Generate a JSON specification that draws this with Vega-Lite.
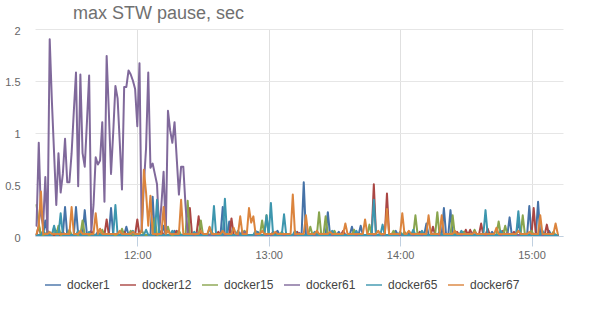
{
"$schema": "https://vega.github.io/schema/vega-lite/v6.json",
"width": 528, "height": 207,
"autosize": {"type": "none"},
"padding": {"left": 35, "top": 29, "right": 30, "bottom": 73},
"background": "white",
"config": {"view": {"stroke": null}, "font": "Liberation Sans"},
"title": {"text": "max STW pause, sec", "anchor": "start", "frame": "group", "dx": 38, "offset": 2, "fontSize": 18, "fontWeight": "normal", "color": "#707070", "font": "Liberation Sans"},
"data": {"format": {"parse": {"t": "utc:'%H:%M'"}}, "values": [
{"t":"11:14","docker1":0.01,"docker12":0.01,"docker15":0.3,"docker61":0.1,"docker65":0.01,"docker67":0.02},
{"t":"11:15","docker1":0.01,"docker12":0.1,"docker15":0.12,"docker61":0.9,"docker65":0.01,"docker67":0.1},
{"t":"11:16","docker1":0.01,"docker12":0.01,"docker15":0.01,"docker61":0.2,"docker65":0.01,"docker67":0.43},
{"t":"11:17","docker1":0.01,"docker12":0.01,"docker15":0.01,"docker61":0.1,"docker65":0.05,"docker67":0.02},
{"t":"11:18","docker1":0.15,"docker12":0.01,"docker15":0.01,"docker61":0.57,"docker65":0.01,"docker67":0.02},
{"t":"11:19","docker1":0.01,"docker12":0.01,"docker15":0.05,"docker61":0.02,"docker65":0.01,"docker67":0.02},
{"t":"11:20","docker1":0.01,"docker12":0.01,"docker15":0.01,"docker61":1.9,"docker65":0.01,"docker67":0.04},
{"t":"11:21","docker1":0.01,"docker12":0.01,"docker15":0.01,"docker61":1.3,"docker65":0.01,"docker67":0.02},
{"t":"11:22","docker1":0.01,"docker12":0.01,"docker15":0.08,"docker61":0.8,"docker65":0.1,"docker67":0.02},
{"t":"11:23","docker1":0.05,"docker12":0.01,"docker15":0.01,"docker61":0.3,"docker65":0.01,"docker67":0.02},
{"t":"11:24","docker1":0.01,"docker12":0.01,"docker15":0.1,"docker61":0.8,"docker65":0.01,"docker67":0.02},
{"t":"11:25","docker1":0.01,"docker12":0.01,"docker15":0.01,"docker61":0.42,"docker65":0.22,"docker67":0.02},
{"t":"11:26","docker1":0.01,"docker12":0.04,"docker15":0.01,"docker61":0.6,"docker65":0.01,"docker67":0.02},
{"t":"11:27","docker1":0.28,"docker12":0.01,"docker15":0.01,"docker61":0.94,"docker65":0.01,"docker67":0.02},
{"t":"11:28","docker1":0.01,"docker12":0.01,"docker15":0.01,"docker61":0.52,"docker65":0.01,"docker67":0.02},
{"t":"11:29","docker1":0.01,"docker12":0.01,"docker15":0.06,"docker61":0.52,"docker65":0.01,"docker67":0.02},
{"t":"11:30","docker1":0.01,"docker12":0.01,"docker15":0.01,"docker61":0.8,"docker65":0.01,"docker67":0.28},
{"t":"11:31","docker1":0.01,"docker12":0.01,"docker15":0.01,"docker61":1.2,"docker65":0.01,"docker67":0.02},
{"t":"11:32","docker1":0.28,"docker12":0.01,"docker15":0.01,"docker61":1.58,"docker65":0.01,"docker67":0.02},
{"t":"11:33","docker1":0.01,"docker12":0.01,"docker15":0.01,"docker61":0.48,"docker65":0.05,"docker67":0.02},
{"t":"11:34","docker1":0.01,"docker12":0.01,"docker15":0.01,"docker61":1.56,"docker65":0.01,"docker67":0.05},
{"t":"11:35","docker1":0.01,"docker12":0.01,"docker15":0.15,"docker61":0.8,"docker65":0.01,"docker67":0.02},
{"t":"11:36","docker1":0.25,"docker12":0.01,"docker15":0.01,"docker61":0.67,"docker65":0.01,"docker67":0.02},
{"t":"11:37","docker1":0.01,"docker12":0.01,"docker15":0.01,"docker61":1.1,"docker65":0.01,"docker67":0.02},
{"t":"11:38","docker1":0.01,"docker12":0.01,"docker15":0.01,"docker61":1.55,"docker65":0.04,"docker67":0.02},
{"t":"11:39","docker1":0.01,"docker12":0.05,"docker15":0.01,"docker61":0.05,"docker65":0.01,"docker67":0.02},
{"t":"11:40","docker1":0.01,"docker12":0.01,"docker15":0.01,"docker61":0.3,"docker65":0.01,"docker67":0.02},
{"t":"11:41","docker1":0.01,"docker12":0.01,"docker15":0.01,"docker61":0.76,"docker65":0.01,"docker67":0.22},
{"t":"11:42","docker1":0.04,"docker12":0.01,"docker15":0.01,"docker61":0.69,"docker65":0.01,"docker67":0.02},
{"t":"11:43","docker1":0.01,"docker12":0.01,"docker15":0.01,"docker61":0.73,"docker65":0.01,"docker67":0.07},
{"t":"11:44","docker1":0.01,"docker12":0.01,"docker15":0.06,"docker61":1.1,"docker65":0.01,"docker67":0.02},
{"t":"11:45","docker1":0.01,"docker12":0.01,"docker15":0.01,"docker61":0.33,"docker65":0.01,"docker67":0.02},
{"t":"11:46","docker1":0.01,"docker12":0.16,"docker15":0.01,"docker61":1.74,"docker65":0.01,"docker67":0.02},
{"t":"11:47","docker1":0.01,"docker12":0.01,"docker15":0.01,"docker61":1.2,"docker65":0.01,"docker67":0.02},
{"t":"11:48","docker1":0.27,"docker12":0.01,"docker15":0.01,"docker61":0.6,"docker65":0.01,"docker67":0.02},
{"t":"11:49","docker1":0.01,"docker12":0.01,"docker15":0.01,"docker61":1.0,"docker65":0.01,"docker67":0.02},
{"t":"11:50","docker1":0.01,"docker12":0.01,"docker15":0.01,"docker61":1.45,"docker65":0.3,"docker67":0.02},
{"t":"11:51","docker1":0.01,"docker12":0.01,"docker15":0.01,"docker61":1.33,"docker65":0.01,"docker67":0.02},
{"t":"11:52","docker1":0.01,"docker12":0.01,"docker15":0.01,"docker61":0.9,"docker65":0.01,"docker67":0.05},
{"t":"11:53","docker1":0.01,"docker12":0.01,"docker15":0.07,"docker61":0.45,"docker65":0.01,"docker67":0.02},
{"t":"11:54","docker1":0.01,"docker12":0.04,"docker15":0.01,"docker61":1.44,"docker65":0.01,"docker67":0.02},
{"t":"11:55","docker1":0.09,"docker12":0.01,"docker15":0.01,"docker61":1.44,"docker65":0.01,"docker67":0.02},
{"t":"11:56","docker1":0.01,"docker12":0.01,"docker15":0.01,"docker61":1.6,"docker65":0.01,"docker67":0.02},
{"t":"11:57","docker1":0.01,"docker12":0.01,"docker15":0.05,"docker61":1.56,"docker65":0.01,"docker67":0.02},
{"t":"11:58","docker1":0.01,"docker12":0.01,"docker15":0.01,"docker61":1.5,"docker65":0.05,"docker67":0.04},
{"t":"11:59","docker1":0.01,"docker12":0.01,"docker15":0.01,"docker61":1.42,"docker65":0.01,"docker67":0.02},
{"t":"12:00","docker1":0.01,"docker12":0.16,"docker15":0.01,"docker61":1.06,"docker65":0.01,"docker67":0.02},
{"t":"12:01","docker1":0.01,"docker12":0.01,"docker15":0.01,"docker61":1.67,"docker65":0.01,"docker67":0.02},
{"t":"12:02","docker1":0.01,"docker12":0.01,"docker15":0.06,"docker61":0.04,"docker65":0.01,"docker67":0.05},
{"t":"12:03","docker1":0.01,"docker12":0.01,"docker15":0.01,"docker61":0.5,"docker65":0.01,"docker67":0.64},
{"t":"12:04","docker1":0.01,"docker12":0.01,"docker15":0.01,"docker61":0.85,"docker65":0.06,"docker67":0.42},
{"t":"12:05","docker1":0.01,"docker12":0.01,"docker15":0.01,"docker61":1.58,"docker65":0.01,"docker67":0.1},
{"t":"12:06","docker1":0.01,"docker12":0.01,"docker15":0.01,"docker61":0.66,"docker65":0.01,"docker67":0.39},
{"t":"12:07","docker1":0.38,"docker12":0.01,"docker15":0.01,"docker61":0.7,"docker65":0.01,"docker67":0.02},
{"t":"12:08","docker1":0.01,"docker12":0.01,"docker15":0.17,"docker61":0.6,"docker65":0.01,"docker67":0.02},
{"t":"12:09","docker1":0.01,"docker12":0.01,"docker15":0.01,"docker61":0.5,"docker65":0.35,"docker67":0.02},
{"t":"12:10","docker1":0.01,"docker12":0.01,"docker15":0.01,"docker61":0.04,"docker65":0.01,"docker67":0.02},
{"t":"12:11","docker1":0.01,"docker12":0.05,"docker15":0.01,"docker61":0.3,"docker65":0.01,"docker67":0.02},
{"t":"12:12","docker1":0.1,"docker12":0.01,"docker15":0.01,"docker61":0.62,"docker65":0.01,"docker67":0.28},
{"t":"12:13","docker1":0.01,"docker12":0.01,"docker15":0.01,"docker61":0.02,"docker65":0.01,"docker67":0.02},
{"t":"12:14","docker1":0.01,"docker12":0.01,"docker15":0.09,"docker61":1.21,"docker65":0.01,"docker67":0.05},
{"t":"12:15","docker1":0.01,"docker12":0.01,"docker15":0.01,"docker61":1.02,"docker65":0.01,"docker67":0.02},
{"t":"12:16","docker1":0.01,"docker12":0.01,"docker15":0.01,"docker61":0.9,"docker65":0.05,"docker67":0.02},
{"t":"12:17","docker1":0.05,"docker12":0.01,"docker15":0.01,"docker61":1.1,"docker65":0.01,"docker67":0.02},
{"t":"12:18","docker1":0.01,"docker12":0.05,"docker15":0.01,"docker61":0.75,"docker65":0.01,"docker67":0.02},
{"t":"12:19","docker1":0.01,"docker12":0.01,"docker15":0.05,"docker61":0.4,"docker65":0.01,"docker67":0.02},
{"t":"12:20","docker1":0.01,"docker12":0.01,"docker15":0.01,"docker61":0.67,"docker65":0.01,"docker67":0.35},
{"t":"12:21","docker1":0.01,"docker12":0.01,"docker15":0.01,"docker61":0.67,"docker65":0.01,"docker67":0.02},
{"t":"12:22","docker1":0.01,"docker12":0.01,"docker15":0.01,"docker61":0.3,"docker65":0.01,"docker67":0.02},
{"t":"12:23","docker1":0.01,"docker12":0.01,"docker15":0.34,"docker61":0.02,"docker65":0.01,"docker67":0.02},
{"t":"12:24","docker1":0.01,"docker12":0.27,"docker15":0.01,"docker61":0.01,"docker65":0.01,"docker67":0.02},
{"t":"12:25","docker1":0.01,"docker12":0.01,"docker15":0.01,"docker61":0.01,"docker65":0.01,"docker67":0.02},
{"t":"12:26","docker1":0.01,"docker12":0.01,"docker15":0.01,"docker61":0.01,"docker65":0.04,"docker67":0.02},
{"t":"12:27","docker1":0.01,"docker12":0.01,"docker15":0.01,"docker61":0.03,"docker65":0.01,"docker67":0.02},
{"t":"12:28","docker1":0.01,"docker12":0.19,"docker15":0.01,"docker61":0.01,"docker65":0.01,"docker67":0.02},
{"t":"12:29","docker1":0.01,"docker12":0.01,"docker15":0.15,"docker61":0.01,"docker65":0.01,"docker67":0.05},
{"t":"12:30","docker1":0.01,"docker12":0.01,"docker15":0.01,"docker61":0.01,"docker65":0.01,"docker67":0.02},
{"t":"12:31","docker1":0.01,"docker12":0.01,"docker15":0.01,"docker61":0.01,"docker65":0.01,"docker67":0.02},
{"t":"12:32","docker1":0.01,"docker12":0.01,"docker15":0.01,"docker61":0.01,"docker65":0.01,"docker67":0.02},
{"t":"12:33","docker1":0.01,"docker12":0.01,"docker15":0.01,"docker61":0.01,"docker65":0.08,"docker67":0.09},
{"t":"12:34","docker1":0.01,"docker12":0.01,"docker15":0.04,"docker61":0.01,"docker65":0.01,"docker67":0.02},
{"t":"12:35","docker1":0.01,"docker12":0.01,"docker15":0.01,"docker61":0.01,"docker65":0.29,"docker67":0.02},
{"t":"12:36","docker1":0.01,"docker12":0.01,"docker15":0.01,"docker61":0.01,"docker65":0.01,"docker67":0.02},
{"t":"12:37","docker1":0.01,"docker12":0.04,"docker15":0.01,"docker61":0.01,"docker65":0.01,"docker67":0.02},
{"t":"12:38","docker1":0.01,"docker12":0.01,"docker15":0.01,"docker61":0.01,"docker65":0.01,"docker67":0.02},
{"t":"12:39","docker1":0.28,"docker12":0.01,"docker15":0.01,"docker61":0.01,"docker65":0.01,"docker67":0.05},
{"t":"12:40","docker1":0.01,"docker12":0.01,"docker15":0.01,"docker61":0.01,"docker65":0.36,"docker67":0.02},
{"t":"12:41","docker1":0.01,"docker12":0.01,"docker15":0.01,"docker61":0.01,"docker65":0.01,"docker67":0.02},
{"t":"12:42","docker1":0.14,"docker12":0.01,"docker15":0.01,"docker61":0.01,"docker65":0.01,"docker67":0.02},
{"t":"12:43","docker1":0.01,"docker12":0.17,"docker15":0.01,"docker61":0.01,"docker65":0.01,"docker67":0.02},
{"t":"12:44","docker1":0.01,"docker12":0.01,"docker15":0.01,"docker61":0.01,"docker65":0.01,"docker67":0.08},
{"t":"12:45","docker1":0.01,"docker12":0.01,"docker15":0.01,"docker61":0.01,"docker65":0.01,"docker67":0.02},
{"t":"12:46","docker1":0.01,"docker12":0.01,"docker15":0.01,"docker61":0.01,"docker65":0.05,"docker67":0.02},
{"t":"12:47","docker1":0.01,"docker12":0.01,"docker15":0.01,"docker61":0.01,"docker65":0.01,"docker67":0.19},
{"t":"12:48","docker1":0.05,"docker12":0.01,"docker15":0.01,"docker61":0.01,"docker65":0.01,"docker67":0.02},
{"t":"12:49","docker1":0.01,"docker12":0.01,"docker15":0.05,"docker61":0.04,"docker65":0.01,"docker67":0.02},
{"t":"12:50","docker1":0.01,"docker12":0.01,"docker15":0.01,"docker61":0.01,"docker65":0.01,"docker67":0.02},
{"t":"12:51","docker1":0.01,"docker12":0.01,"docker15":0.01,"docker61":0.01,"docker65":0.01,"docker67":0.27},
{"t":"12:52","docker1":0.01,"docker12":0.01,"docker15":0.01,"docker61":0.01,"docker65":0.01,"docker67":0.13},
{"t":"12:53","docker1":0.01,"docker12":0.01,"docker15":0.01,"docker61":0.01,"docker65":0.01,"docker67":0.19},
{"t":"12:54","docker1":0.01,"docker12":0.01,"docker15":0.01,"docker61":0.01,"docker65":0.05,"docker67":0.02},
{"t":"12:55","docker1":0.04,"docker12":0.01,"docker15":0.01,"docker61":0.01,"docker65":0.01,"docker67":0.02},
{"t":"12:56","docker1":0.01,"docker12":0.01,"docker15":0.01,"docker61":0.01,"docker65":0.01,"docker67":0.02},
{"t":"12:57","docker1":0.01,"docker12":0.01,"docker15":0.15,"docker61":0.01,"docker65":0.01,"docker67":0.05},
{"t":"12:58","docker1":0.01,"docker12":0.01,"docker15":0.01,"docker61":0.01,"docker65":0.01,"docker67":0.02},
{"t":"12:59","docker1":0.01,"docker12":0.01,"docker15":0.2,"docker61":0.01,"docker65":0.2,"docker67":0.02},
{"t":"13:00","docker1":0.01,"docker12":0.01,"docker15":0.01,"docker61":0.01,"docker65":0.01,"docker67":0.02},
{"t":"13:01","docker1":0.01,"docker12":0.01,"docker15":0.01,"docker61":0.01,"docker65":0.32,"docker67":0.02},
{"t":"13:02","docker1":0.01,"docker12":0.04,"docker15":0.01,"docker61":0.01,"docker65":0.01,"docker67":0.02},
{"t":"13:03","docker1":0.01,"docker12":0.01,"docker15":0.01,"docker61":0.01,"docker65":0.01,"docker67":0.04},
{"t":"13:04","docker1":0.05,"docker12":0.01,"docker15":0.01,"docker61":0.01,"docker65":0.01,"docker67":0.02},
{"t":"13:05","docker1":0.01,"docker12":0.01,"docker15":0.01,"docker61":0.01,"docker65":0.01,"docker67":0.02},
{"t":"13:06","docker1":0.01,"docker12":0.01,"docker15":0.04,"docker61":0.01,"docker65":0.01,"docker67":0.02},
{"t":"13:07","docker1":0.01,"docker12":0.01,"docker15":0.01,"docker61":0.01,"docker65":0.21,"docker67":0.02},
{"t":"13:08","docker1":0.01,"docker12":0.01,"docker15":0.01,"docker61":0.01,"docker65":0.01,"docker67":0.02},
{"t":"13:09","docker1":0.01,"docker12":0.01,"docker15":0.01,"docker61":0.01,"docker65":0.01,"docker67":0.02},
{"t":"13:10","docker1":0.01,"docker12":0.01,"docker15":0.01,"docker61":0.01,"docker65":0.01,"docker67":0.02},
{"t":"13:11","docker1":0.01,"docker12":0.01,"docker15":0.01,"docker61":0.01,"docker65":0.01,"docker67":0.4},
{"t":"13:12","docker1":0.01,"docker12":0.01,"docker15":0.01,"docker61":0.01,"docker65":0.05,"docker67":0.02},
{"t":"13:13","docker1":0.01,"docker12":0.04,"docker15":0.01,"docker61":0.01,"docker65":0.01,"docker67":0.02},
{"t":"13:14","docker1":0.01,"docker12":0.01,"docker15":0.01,"docker61":0.03,"docker65":0.01,"docker67":0.02},
{"t":"13:15","docker1":0.01,"docker12":0.01,"docker15":0.01,"docker61":0.01,"docker65":0.01,"docker67":0.02},
{"t":"13:16","docker1":0.52,"docker12":0.01,"docker15":0.01,"docker61":0.01,"docker65":0.01,"docker67":0.02},
{"t":"13:17","docker1":0.01,"docker12":0.01,"docker15":0.01,"docker61":0.01,"docker65":0.01,"docker67":0.2},
{"t":"13:18","docker1":0.01,"docker12":0.01,"docker15":0.01,"docker61":0.01,"docker65":0.01,"docker67":0.02},
{"t":"13:19","docker1":0.01,"docker12":0.01,"docker15":0.09,"docker61":0.01,"docker65":0.01,"docker67":0.02},
{"t":"13:20","docker1":0.01,"docker12":0.01,"docker15":0.01,"docker61":0.01,"docker65":0.01,"docker67":0.02},
{"t":"13:21","docker1":0.01,"docker12":0.01,"docker15":0.01,"docker61":0.01,"docker65":0.04,"docker67":0.02},
{"t":"13:22","docker1":0.01,"docker12":0.01,"docker15":0.01,"docker61":0.01,"docker65":0.01,"docker67":0.05},
{"t":"13:23","docker1":0.01,"docker12":0.01,"docker15":0.23,"docker61":0.01,"docker65":0.01,"docker67":0.02},
{"t":"13:24","docker1":0.01,"docker12":0.01,"docker15":0.01,"docker61":0.01,"docker65":0.01,"docker67":0.02},
{"t":"13:25","docker1":0.01,"docker12":0.01,"docker15":0.01,"docker61":0.01,"docker65":0.01,"docker67":0.02},
{"t":"13:26","docker1":0.01,"docker12":0.01,"docker15":0.19,"docker61":0.01,"docker65":0.01,"docker67":0.02},
{"t":"13:27","docker1":0.23,"docker12":0.01,"docker15":0.01,"docker61":0.01,"docker65":0.01,"docker67":0.02},
{"t":"13:28","docker1":0.01,"docker12":0.01,"docker15":0.01,"docker61":0.01,"docker65":0.01,"docker67":0.04},
{"t":"13:29","docker1":0.01,"docker12":0.01,"docker15":0.01,"docker61":0.01,"docker65":0.05,"docker67":0.02},
{"t":"13:30","docker1":0.01,"docker12":0.01,"docker15":0.05,"docker61":0.01,"docker65":0.01,"docker67":0.02},
{"t":"13:31","docker1":0.01,"docker12":0.01,"docker15":0.01,"docker61":0.01,"docker65":0.01,"docker67":0.02},
{"t":"13:32","docker1":0.04,"docker12":0.01,"docker15":0.01,"docker61":0.01,"docker65":0.01,"docker67":0.02},
{"t":"13:33","docker1":0.01,"docker12":0.01,"docker15":0.01,"docker61":0.01,"docker65":0.01,"docker67":0.02},
{"t":"13:34","docker1":0.01,"docker12":0.05,"docker15":0.01,"docker61":0.01,"docker65":0.01,"docker67":0.02},
{"t":"13:35","docker1":0.01,"docker12":0.01,"docker15":0.01,"docker61":0.01,"docker65":0.01,"docker67":0.12},
{"t":"13:36","docker1":0.01,"docker12":0.01,"docker15":0.01,"docker61":0.01,"docker65":0.01,"docker67":0.02},
{"t":"13:37","docker1":0.01,"docker12":0.01,"docker15":0.01,"docker61":0.01,"docker65":0.01,"docker67":0.02},
{"t":"13:38","docker1":0.09,"docker12":0.01,"docker15":0.01,"docker61":0.01,"docker65":0.01,"docker67":0.02},
{"t":"13:39","docker1":0.01,"docker12":0.01,"docker15":0.06,"docker61":0.01,"docker65":0.01,"docker67":0.02},
{"t":"13:40","docker1":0.01,"docker12":0.01,"docker15":0.01,"docker61":0.01,"docker65":0.05,"docker67":0.02},
{"t":"13:41","docker1":0.01,"docker12":0.01,"docker15":0.01,"docker61":0.01,"docker65":0.01,"docker67":0.02},
{"t":"13:42","docker1":0.1,"docker12":0.01,"docker15":0.01,"docker61":0.01,"docker65":0.01,"docker67":0.02},
{"t":"13:43","docker1":0.01,"docker12":0.01,"docker15":0.01,"docker61":0.01,"docker65":0.01,"docker67":0.02},
{"t":"13:44","docker1":0.01,"docker12":0.01,"docker15":0.01,"docker61":0.01,"docker65":0.01,"docker67":0.16},
{"t":"13:45","docker1":0.01,"docker12":0.01,"docker15":0.01,"docker61":0.01,"docker65":0.01,"docker67":0.02},
{"t":"13:46","docker1":0.01,"docker12":0.01,"docker15":0.11,"docker61":0.01,"docker65":0.01,"docker67":0.02},
{"t":"13:47","docker1":0.01,"docker12":0.01,"docker15":0.01,"docker61":0.01,"docker65":0.01,"docker67":0.02},
{"t":"13:48","docker1":0.01,"docker12":0.5,"docker15":0.01,"docker61":0.01,"docker65":0.35,"docker67":0.02},
{"t":"13:49","docker1":0.01,"docker12":0.01,"docker15":0.01,"docker61":0.01,"docker65":0.01,"docker67":0.02},
{"t":"13:50","docker1":0.01,"docker12":0.01,"docker15":0.01,"docker61":0.01,"docker65":0.01,"docker67":0.05},
{"t":"13:51","docker1":0.01,"docker12":0.01,"docker15":0.01,"docker61":0.03,"docker65":0.01,"docker67":0.02},
{"t":"13:52","docker1":0.01,"docker12":0.01,"docker15":0.01,"docker61":0.01,"docker65":0.11,"docker67":0.02},
{"t":"13:53","docker1":0.01,"docker12":0.01,"docker15":0.01,"docker61":0.01,"docker65":0.01,"docker67":0.02},
{"t":"13:54","docker1":0.01,"docker12":0.41,"docker15":0.01,"docker61":0.01,"docker65":0.01,"docker67":0.26},
{"t":"13:55","docker1":0.01,"docker12":0.01,"docker15":0.01,"docker61":0.01,"docker65":0.01,"docker67":0.02},
{"t":"13:56","docker1":0.01,"docker12":0.01,"docker15":0.01,"docker61":0.01,"docker65":0.01,"docker67":0.02},
{"t":"13:57","docker1":0.01,"docker12":0.01,"docker15":0.05,"docker61":0.01,"docker65":0.01,"docker67":0.02},
{"t":"13:58","docker1":0.05,"docker12":0.01,"docker15":0.01,"docker61":0.01,"docker65":0.01,"docker67":0.02},
{"t":"13:59","docker1":0.01,"docker12":0.01,"docker15":0.01,"docker61":0.01,"docker65":0.01,"docker67":0.02},
{"t":"14:00","docker1":0.01,"docker12":0.01,"docker15":0.01,"docker61":0.01,"docker65":0.04,"docker67":0.02},
{"t":"14:01","docker1":0.01,"docker12":0.01,"docker15":0.01,"docker61":0.01,"docker65":0.01,"docker67":0.22},
{"t":"14:02","docker1":0.01,"docker12":0.01,"docker15":0.04,"docker61":0.01,"docker65":0.01,"docker67":0.02},
{"t":"14:03","docker1":0.01,"docker12":0.01,"docker15":0.01,"docker61":0.01,"docker65":0.01,"docker67":0.02},
{"t":"14:04","docker1":0.04,"docker12":0.01,"docker15":0.01,"docker61":0.01,"docker65":0.01,"docker67":0.05},
{"t":"14:05","docker1":0.01,"docker12":0.01,"docker15":0.01,"docker61":0.01,"docker65":0.01,"docker67":0.02},
{"t":"14:06","docker1":0.01,"docker12":0.01,"docker15":0.01,"docker61":0.01,"docker65":0.06,"docker67":0.02},
{"t":"14:07","docker1":0.01,"docker12":0.01,"docker15":0.2,"docker61":0.01,"docker65":0.01,"docker67":0.02},
{"t":"14:08","docker1":0.01,"docker12":0.01,"docker15":0.01,"docker61":0.01,"docker65":0.01,"docker67":0.02},
{"t":"14:09","docker1":0.01,"docker12":0.04,"docker15":0.01,"docker61":0.01,"docker65":0.01,"docker67":0.02},
{"t":"14:10","docker1":0.01,"docker12":0.01,"docker15":0.01,"docker61":0.01,"docker65":0.05,"docker67":0.02},
{"t":"14:11","docker1":0.01,"docker12":0.01,"docker15":0.01,"docker61":0.01,"docker65":0.01,"docker67":0.02},
{"t":"14:12","docker1":0.12,"docker12":0.01,"docker15":0.01,"docker61":0.01,"docker65":0.01,"docker67":0.02},
{"t":"14:13","docker1":0.01,"docker12":0.01,"docker15":0.01,"docker61":0.01,"docker65":0.01,"docker67":0.2},
{"t":"14:14","docker1":0.01,"docker12":0.01,"docker15":0.01,"docker61":0.01,"docker65":0.01,"docker67":0.02},
{"t":"14:15","docker1":0.01,"docker12":0.09,"docker15":0.01,"docker61":0.01,"docker65":0.01,"docker67":0.02},
{"t":"14:16","docker1":0.01,"docker12":0.01,"docker15":0.01,"docker61":0.01,"docker65":0.01,"docker67":0.02},
{"t":"14:17","docker1":0.01,"docker12":0.01,"docker15":0.23,"docker61":0.01,"docker65":0.01,"docker67":0.02},
{"t":"14:18","docker1":0.01,"docker12":0.01,"docker15":0.01,"docker61":0.01,"docker65":0.04,"docker67":0.02},
{"t":"14:19","docker1":0.01,"docker12":0.01,"docker15":0.01,"docker61":0.01,"docker65":0.01,"docker67":0.2},
{"t":"14:20","docker1":0.27,"docker12":0.01,"docker15":0.01,"docker61":0.01,"docker65":0.01,"docker67":0.02},
{"t":"14:21","docker1":0.01,"docker12":0.01,"docker15":0.01,"docker61":0.01,"docker65":0.01,"docker67":0.02},
{"t":"14:22","docker1":0.01,"docker12":0.01,"docker15":0.01,"docker61":0.01,"docker65":0.01,"docker67":0.02},
{"t":"14:23","docker1":0.25,"docker12":0.01,"docker15":0.01,"docker61":0.01,"docker65":0.01,"docker67":0.02},
{"t":"14:24","docker1":0.01,"docker12":0.01,"docker15":0.2,"docker61":0.01,"docker65":0.01,"docker67":0.02},
{"t":"14:25","docker1":0.01,"docker12":0.01,"docker15":0.01,"docker61":0.01,"docker65":0.01,"docker67":0.05},
{"t":"14:26","docker1":0.01,"docker12":0.04,"docker15":0.01,"docker61":0.01,"docker65":0.01,"docker67":0.02},
{"t":"14:27","docker1":0.01,"docker12":0.01,"docker15":0.01,"docker61":0.01,"docker65":0.01,"docker67":0.02},
{"t":"14:28","docker1":0.01,"docker12":0.01,"docker15":0.01,"docker61":0.01,"docker65":0.05,"docker67":0.02},
{"t":"14:29","docker1":0.01,"docker12":0.01,"docker15":0.04,"docker61":0.01,"docker65":0.01,"docker67":0.02},
{"t":"14:30","docker1":0.01,"docker12":0.06,"docker15":0.01,"docker61":0.01,"docker65":0.01,"docker67":0.02},
{"t":"14:31","docker1":0.01,"docker12":0.01,"docker15":0.01,"docker61":0.01,"docker65":0.01,"docker67":0.02},
{"t":"14:32","docker1":0.01,"docker12":0.06,"docker15":0.01,"docker61":0.01,"docker65":0.01,"docker67":0.02},
{"t":"14:33","docker1":0.01,"docker12":0.01,"docker15":0.01,"docker61":0.03,"docker65":0.01,"docker67":0.02},
{"t":"14:34","docker1":0.05,"docker12":0.01,"docker15":0.06,"docker61":0.01,"docker65":0.01,"docker67":0.04},
{"t":"14:35","docker1":0.01,"docker12":0.01,"docker15":0.01,"docker61":0.01,"docker65":0.01,"docker67":0.02},
{"t":"14:36","docker1":0.01,"docker12":0.01,"docker15":0.01,"docker61":0.01,"docker65":0.01,"docker67":0.02},
{"t":"14:37","docker1":0.01,"docker12":0.12,"docker15":0.01,"docker61":0.01,"docker65":0.01,"docker67":0.02},
{"t":"14:38","docker1":0.01,"docker12":0.01,"docker15":0.01,"docker61":0.01,"docker65":0.01,"docker67":0.02},
{"t":"14:39","docker1":0.01,"docker12":0.01,"docker15":0.01,"docker61":0.01,"docker65":0.25,"docker67":0.02},
{"t":"14:40","docker1":0.01,"docker12":0.07,"docker15":0.01,"docker61":0.01,"docker65":0.01,"docker67":0.02},
{"t":"14:41","docker1":0.01,"docker12":0.01,"docker15":0.01,"docker61":0.01,"docker65":0.01,"docker67":0.02},
{"t":"14:42","docker1":0.04,"docker12":0.01,"docker15":0.01,"docker61":0.01,"docker65":0.01,"docker67":0.02},
{"t":"14:43","docker1":0.01,"docker12":0.01,"docker15":0.01,"docker61":0.01,"docker65":0.01,"docker67":0.02},
{"t":"14:44","docker1":0.01,"docker12":0.01,"docker15":0.01,"docker61":0.01,"docker65":0.01,"docker67":0.08},
{"t":"14:45","docker1":0.01,"docker12":0.01,"docker15":0.14,"docker61":0.01,"docker65":0.01,"docker67":0.02},
{"t":"14:46","docker1":0.01,"docker12":0.01,"docker15":0.01,"docker61":0.01,"docker65":0.05,"docker67":0.02},
{"t":"14:47","docker1":0.01,"docker12":0.05,"docker15":0.01,"docker61":0.01,"docker65":0.01,"docker67":0.02},
{"t":"14:48","docker1":0.01,"docker12":0.01,"docker15":0.1,"docker61":0.01,"docker65":0.01,"docker67":0.02},
{"t":"14:49","docker1":0.01,"docker12":0.01,"docker15":0.01,"docker61":0.03,"docker65":0.01,"docker67":0.02},
{"t":"14:50","docker1":0.18,"docker12":0.01,"docker15":0.01,"docker61":0.01,"docker65":0.01,"docker67":0.02},
{"t":"14:51","docker1":0.01,"docker12":0.01,"docker15":0.01,"docker61":0.01,"docker65":0.01,"docker67":0.02},
{"t":"14:52","docker1":0.01,"docker12":0.04,"docker15":0.01,"docker61":0.01,"docker65":0.01,"docker67":0.02},
{"t":"14:53","docker1":0.01,"docker12":0.01,"docker15":0.01,"docker61":0.01,"docker65":0.01,"docker67":0.02},
{"t":"14:54","docker1":0.15,"docker12":0.01,"docker15":0.01,"docker61":0.01,"docker65":0.24,"docker67":0.05},
{"t":"14:55","docker1":0.01,"docker12":0.01,"docker15":0.01,"docker61":0.01,"docker65":0.01,"docker67":0.02},
{"t":"14:56","docker1":0.01,"docker12":0.01,"docker15":0.2,"docker61":0.01,"docker65":0.01,"docker67":0.02},
{"t":"14:57","docker1":0.01,"docker12":0.01,"docker15":0.01,"docker61":0.01,"docker65":0.01,"docker67":0.02},
{"t":"14:58","docker1":0.01,"docker12":0.01,"docker15":0.01,"docker61":0.01,"docker65":0.01,"docker67":0.02},
{"t":"14:59","docker1":0.29,"docker12":0.01,"docker15":0.01,"docker61":0.01,"docker65":0.01,"docker67":0.04},
{"t":"15:00","docker1":0.01,"docker12":0.01,"docker15":0.05,"docker61":0.01,"docker65":0.01,"docker67":0.02},
{"t":"15:01","docker1":0.01,"docker12":0.27,"docker15":0.01,"docker61":0.01,"docker65":0.01,"docker67":0.02},
{"t":"15:02","docker1":0.01,"docker12":0.01,"docker15":0.01,"docker61":0.01,"docker65":0.01,"docker67":0.02},
{"t":"15:03","docker1":0.33,"docker12":0.01,"docker15":0.01,"docker61":0.01,"docker65":0.01,"docker67":0.02},
{"t":"15:04","docker1":0.01,"docker12":0.01,"docker15":0.01,"docker61":0.01,"docker65":0.01,"docker67":0.2},
{"t":"15:05","docker1":0.01,"docker12":0.01,"docker15":0.01,"docker61":0.01,"docker65":0.05,"docker67":0.02},
{"t":"15:06","docker1":0.01,"docker12":0.01,"docker15":0.01,"docker61":0.01,"docker65":0.01,"docker67":0.02},
{"t":"15:07","docker1":0.01,"docker12":0.11,"docker15":0.01,"docker61":0.01,"docker65":0.01,"docker67":0.02},
{"t":"15:08","docker1":0.05,"docker12":0.01,"docker15":0.01,"docker61":0.01,"docker65":0.01,"docker67":0.02},
{"t":"15:09","docker1":0.01,"docker12":0.01,"docker15":0.01,"docker61":0.01,"docker65":0.01,"docker67":0.02},
{"t":"15:10","docker1":0.01,"docker12":0.01,"docker15":0.04,"docker61":0.01,"docker65":0.01,"docker67":0.02},
{"t":"15:11","docker1":0.01,"docker12":0.01,"docker15":0.01,"docker61":0.01,"docker65":0.01,"docker67":0.12},
{"t":"15:12","docker1":0.01,"docker12":0.01,"docker15":0.01,"docker61":0.01,"docker65":0.01,"docker67":0.02}
]},
"transform": [{"fold": ["docker1","docker12","docker15","docker61","docker65","docker67"], "as": ["host","pause"]}],
"mark": {"type": "line", "strokeWidth": 2, "strokeJoin": "round", "strokeCap": "round"},
"encoding": {
"x": {"field": "t", "type": "temporal",
 "scale": {"type": "utc", "domain": [{"year":1900,"month":1,"date":1,"hours":11,"minutes":13,"seconds":17,"utc":true},{"year":1900,"month":1,"date":1,"hours":15,"minutes":14,"seconds":23,"utc":true}]},
 "axis": {"values": [{"year":1900,"month":1,"date":1,"hours":12,"utc":true},{"year":1900,"month":1,"date":1,"hours":13,"utc":true},{"year":1900,"month":1,"date":1,"hours":14,"utc":true},{"year":1900,"month":1,"date":1,"hours":15,"utc":true}],
  "labelExpr": "utcFormat(datum.value, '%H:%M')", "title": null, "grid": true, "gridColor": "#e0e0e0",
  "domainColor": "#C0D0E0", "tickColor": "#C0D0E0", "tickSize": 10, "labelFontSize": 11, "labelColor": "#666666",
  "labelPadding": 3, "labelFont": "Liberation Sans", "labelFlush": false}},
"y": {"field": "pause", "type": "quantitative", "scale": {"domain": [0, 2]},
 "axis": {"values": [0, 0.5, 1, 1.5, 2], "format": "~g", "title": null, "domain": false, "ticks": false, "gridColor": "#e6e6e6",
  "labelFontSize": 11, "labelColor": "#666666", "labelPadding": 15, "labelOffset": 2, "labelFont": "Liberation Sans"}},
"color": {"field": "host", "type": "nominal",
 "scale": {"domain": ["docker1","docker12","docker15","docker61","docker65","docker67"], "range": ["#4572A7","#AA4643","#89A54E","#80699B","#3D96AE","#DB843D"]},
 "legend": {"title": null, "orient": "none", "direction": "horizontal", "legendX": 9, "legendY": 247,
  "symbolType": "stroke", "symbolSize": 256, "symbolStrokeWidth": 2, "symbolOpacity": 0.7,
  "labelFontSize": 12, "labelColor": "#444444", "labelOffset": 5, "columnPadding": 6, "labelFont": "Liberation Sans"}}
}
}
